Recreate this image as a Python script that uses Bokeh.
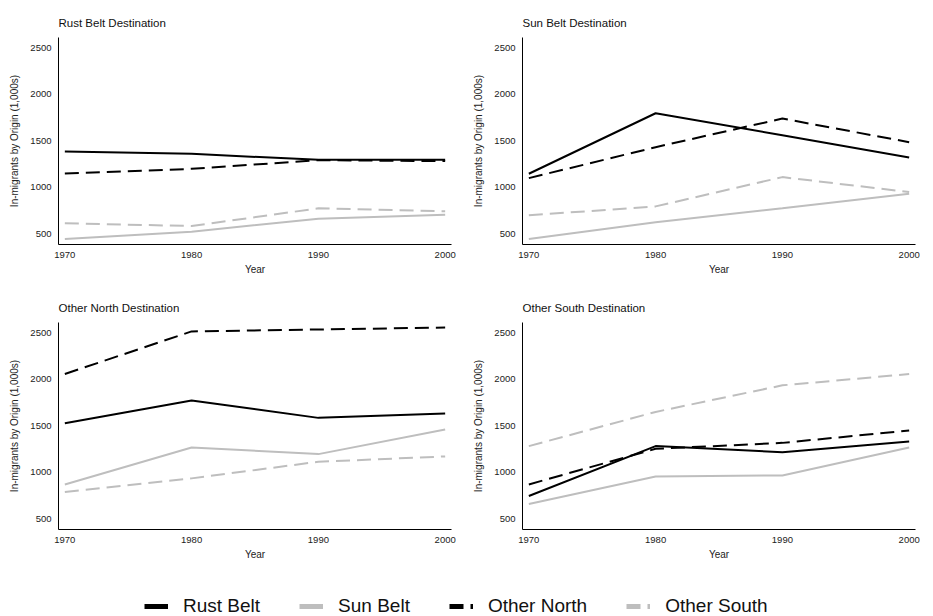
from bokeh.plotting import figure
from bokeh.layouts import column, row
from bokeh.models import Range1d, FixedTicker, Legend, LegendItem
from bokeh.embed import file_html
from bokeh.resources import INLINE

# Census years
years = [1970, 1980, 1990, 2000]

# In-migrants (1,000s) by region of origin, one block per destination region
rust_dest_rust = [1383, 1358, 1294, 1294]
rust_dest_sun = [443, 521, 661, 704]
rust_dest_north = [1147, 1197, 1290, 1280]
rust_dest_south = [611, 582, 772, 740]

sun_dest_rust = [1144, 1795, 1559, 1319]
sun_dest_sun = [443, 622, 772, 929]
sun_dest_north = [1097, 1430, 1738, 1484]
sun_dest_south = [697, 793, 1108, 947]

north_dest_rust = [1526, 1770, 1584, 1630]
north_dest_sun = [868, 1265, 1194, 1458]
north_dest_north = [2056, 2514, 2535, 2556]
north_dest_south = [786, 933, 1112, 1169]

south_dest_rust = [743, 1280, 1215, 1330]
south_dest_sun = [657, 954, 965, 1265]
south_dest_north = [868, 1251, 1315, 1448]
south_dest_south = [1280, 1648, 1934, 2056]

origins = ["Rust Belt", "Sun Belt", "Other North", "Other South"]
y_ticks = [500, 1000, 1500, 2000, 2500]

BLACK = "#000000"
GREY = "#bebebe"
DASH = "14 7"
FONT = "Liberation Sans"

styles = {
    "Rust Belt": (BLACK, "solid"),
    "Sun Belt": (GREY, "solid"),
    "Other North": (BLACK, DASH),
    "Other South": (GREY, DASH),
}

panels = [
    ("Rust Belt Destination", [rust_dest_rust, rust_dest_sun, rust_dest_north, rust_dest_south]),
    ("Sun Belt Destination", [sun_dest_rust, sun_dest_sun, sun_dest_north, sun_dest_south]),
    ("Other North Destination", [north_dest_rust, north_dest_sun, north_dest_north, north_dest_south]),
    ("Other South Destination", [south_dest_rust, south_dest_sun, south_dest_north, south_dest_south]),
]


def make_panel(title, series, left_col):
    width = 466 if left_col else 467
    p = figure(
        width=width, height=285,
        x_range=Range1d(1969.5, 2000.5), y_range=Range1d(383, 2610),
        output_backend="svg", toolbar_location=None,
        min_border_left=58 if left_col else 56,
        min_border_right=15 if left_col else 18,
        min_border_top=37, min_border_bottom=41,
    )
    p.title.text = title
    p.title.text_font = FONT
    p.title.text_font_size = "11.5px"
    p.title.text_font_style = "normal"
    p.title.text_color = "#111111"
    p.title.align = "left"
    p.title.offset = 0
    p.title.standoff = 18

    p.outline_line_color = None
    p.grid.visible = False
    p.background_fill_color = "white"
    p.border_fill_color = "white"

    for name, vals in zip(origins, series):
        color, dash = styles[name]
        p.line(years, vals, line_color=color, line_width=2, line_dash=dash)

    p.xaxis.ticker = FixedTicker(ticks=years)
    p.yaxis.ticker = FixedTicker(ticks=y_ticks)
    p.xaxis.axis_label = "Year"
    p.yaxis.axis_label = "In-migrants by Origin (1,000s)"
    for ax in (p.xaxis, p.yaxis):
        ax.axis_line_color = BLACK
        ax.axis_line_width = 1
        ax.major_tick_line_color = None
        ax.minor_tick_line_color = None
        ax.major_tick_in = 0
        ax.major_tick_out = 0
        ax.minor_tick_in = 0
        ax.minor_tick_out = 0
        ax.major_label_text_font = FONT
        ax.major_label_text_font_size = "9.5px"
        ax.major_label_text_color = "#222222"
        ax.axis_label_text_font = FONT
        ax.axis_label_text_font_size = "10px"
        ax.axis_label_text_font_style = "normal"
        ax.axis_label_text_color = "#222222"
    p.yaxis.major_label_standoff = 7
    p.yaxis.axis_label_standoff = 7
    p.xaxis.major_label_standoff = 7
    p.xaxis.axis_label_standoff = 3
    return p


figs = [make_panel(t, s, i % 2 == 0) for i, (t, s) in enumerate(panels)]

# Shared legend drawn in its own strip below the panels; the sample lines
# sit outside the strip's ranges so only their legend glyphs show
leg_fig = figure(
    width=933, height=46, x_range=Range1d(0, 1), y_range=Range1d(0, 1),
    output_backend="svg", toolbar_location=None,
    min_border=0, min_border_left=0, min_border_right=0,
    min_border_top=0, min_border_bottom=0,
)
leg_fig.axis.visible = False
leg_fig.grid.visible = False
leg_fig.outline_line_color = None

items = []
for name in origins:
    color, dash = styles[name]
    r = leg_fig.line([5, 6], [5, 6], line_color=color, line_width=5, line_dash=dash)
    items.append(LegendItem(label=name, renderers=[r]))

legend = Legend(
    items=items, orientation="horizontal", location=(144, -1),
    label_text_font=FONT, label_text_font_size="19px",
    label_text_color="#111111",
    glyph_width=24, glyph_height=20, label_standoff=15, spacing=39,
    padding=0, margin=0, border_line_color=None,
    background_fill_alpha=0,
)
leg_fig.add_layout(legend, "center")

layout = column(row(figs[0], figs[1]), row(figs[2], figs[3]), leg_fig)

open("out.html", "w").write(file_html(layout, INLINE))
